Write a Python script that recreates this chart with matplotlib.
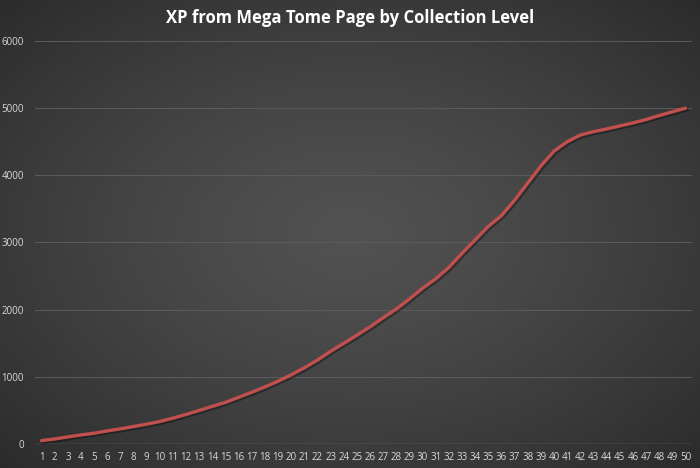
import numpy as np
import matplotlib
matplotlib.use('Agg')
import matplotlib.pyplot as plt
import matplotlib.patheffects as pe

levels = list(range(1, 51))
xp = [50, 75, 105, 135, 160, 195, 225, 260, 295, 335,
      385, 440, 500, 560, 620, 695, 770, 850, 935, 1030,
      1135, 1250, 1380, 1500, 1620, 1745, 1880, 2010, 2160, 2320,
      2460, 2630, 2840, 3040, 3240, 3400, 3630, 3885, 4140, 4360,
      4500, 4600, 4650, 4690, 4735, 4780, 4830, 4890, 4945, 5000]
y_ticks = [0, 1000, 2000, 3000, 4000, 5000, 6000]

fig = plt.figure(figsize=(7, 4.68), dpi=100)

# radial gradient background like the Excel chart style
bg = fig.add_axes([0, 0, 1, 1])
yy, xx = np.mgrid[-1:1:468j, -1:1:700j]
r = np.sqrt(xx**2 + yy**2) / np.sqrt(2)
shade = 0.32 - 0.15 * r**1.3
bg.imshow(np.dstack([shade] * 3), aspect='auto', extent=[0, 1, 0, 1])
bg.set_axis_off()

ax = fig.add_axes([0.05, 0.0513, 0.9386, 0.8611])
ax.set_facecolor('none')

line, = ax.plot(levels, xp, color='#c0504d', linewidth=2.4, solid_capstyle='round', zorder=3)
line.set_path_effects([pe.SimpleLineShadow(offset=(1.2, -1.2), shadow_color='black', alpha=0.35),
                       pe.Normal()])

ax.set_xlim(0.5, 50.5)
ax.set_ylim(0, 6000)
ax.set_xticks(levels)
ax.set_xticklabels([str(v) for v in levels])
ax.set_yticks(y_ticks)
ax.grid(axis='y', color='#5c5c5c', linewidth=0.7)
ax.grid(axis='x', visible=False)
ax.axhline(0, color='#6e6e6e', linewidth=1.0)

for s in ax.spines.values():
    s.set_visible(False)
ax.tick_params(length=0, colors='#d9d9d9', labelsize=7)
ax.tick_params(axis='x', pad=6)
ax.tick_params(axis='y', pad=8)
for lab in ax.get_xticklabels() + ax.get_yticklabels():
    lab.set_family('Open Sans')

fig.text(0.5, 0.962, 'XP from Mega Tome Page by Collection Level', ha='center', va='center',
         color='white', fontsize=12, fontweight='bold', family='Open Sans')

fig.savefig('out.png', dpi=100)
